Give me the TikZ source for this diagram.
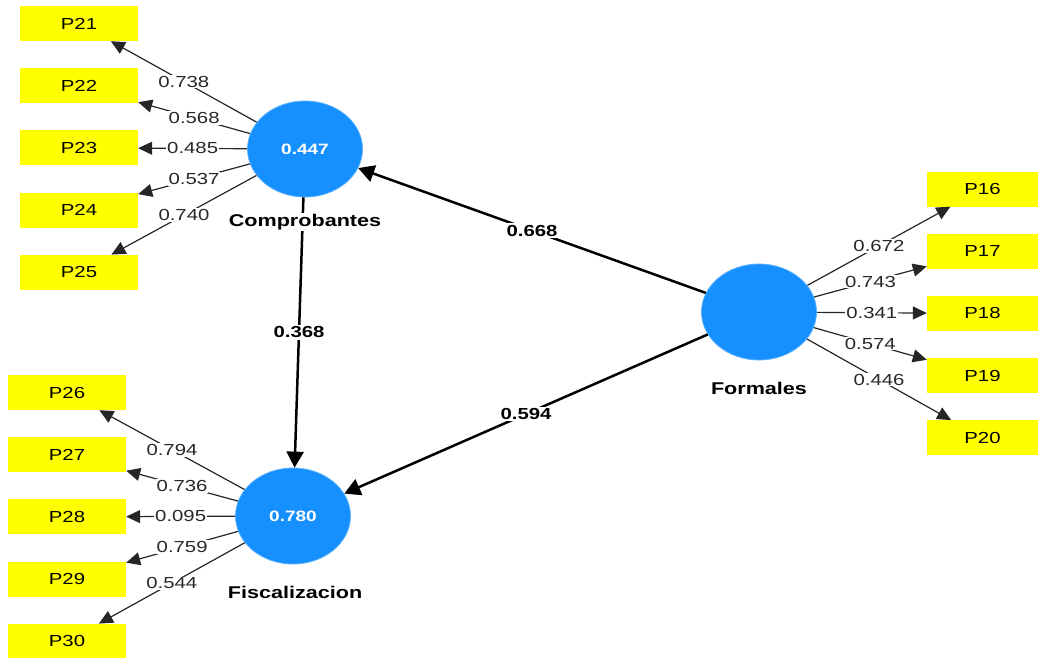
\documentclass[tikz,border=0pt]{standalone}
\usepackage{fontspec}
\setmainfont{Liberation Sans}
\newfontfamily\plsfont[FakeStretch=1.27]{Liberation Sans}
\usetikzlibrary{
    arrows.meta,
    shapes.geometric
}
\definecolor{lv blue}{RGB}{22,144,255}
\definecolor{item yellow}{RGB}{255,255,0}
\definecolor{weight gray}{RGB}{40,40,40}
\tikzset{
    % Fonts
    item font/.style={font=\plsfont\fontsize{16pt}{18pt}\selectfont},
    bold font/.style={font=\plsfont\fontsize{#1}{#1}\selectfont\bfseries},
    %
    % Nodes
    latent/.style={ellipse, fill=lv blue, draw=lv blue!70!white, line width=.8pt,
        minimum width=115pt, minimum height=96pt, inner sep=0pt, text=white, bold font=15pt},
    indicator/.style={rectangle, fill=item yellow, minimum width=118pt, minimum height=35pt,
        inner sep=0pt, item font},
    latent name/.style={fill=white, inner sep=1.5pt, bold font=17pt},
    weight/.style={fill=white, inner sep=1pt, text=weight gray, item font},
    coef/.style={fill=white, inner sep=1.5pt, bold font=16pt},
    %
    % Arrows
    loading tip/.tip={Triangle[length=14pt,width=13pt]},
    path tip/.tip={Triangle[length=16pt,width=17pt]},
    loading/.style={-{loading tip}, line width=1.2pt, draw=black!85},
    structural/.style={-{path tip}, line width=2.5pt}
}

\begin{document}
\begin{tikzpicture}[x=1pt, y=-1pt]
    \useasboundingbox (0,0) rectangle (1038,658);

    % latent variables
    \node[latent] (comp) at (305,149) {0.447};
    \node[latent] (form) at (759,312) {};
    \node[latent] (fisc) at (293,516) {0.780};

    % indicators
    \foreach \p [count=\i from 0] in {21,...,25}
        \node[indicator] (p\p) at (79,23.5+62.2*\i) {P\p};
    \foreach \p [count=\i from 0] in {16,...,20}
        \node[indicator, minimum width=111pt] (p\p) at (982.5,189+62.2*\i) {P\p};
    \foreach \p [count=\i from 0] in {26,...,30}
        \node[indicator] (p\p) at (67,392.5+62.2*\i) {P\p};

    % inner model
    \draw[structural] (form) -- node[coef] {0.668} (comp);
    \draw[structural] (form) -- node[coef] {0.594} (fisc);
    \draw[structural] (comp) -- node[coef] {0.368} (fisc);

    % outer loadings
    \foreach \p/\w in {21/0.738, 22/0.568, 23/0.485, 24/0.537, 25/0.740}
        \draw[loading] (comp) -- node[weight] {\w} (p\p);
    \foreach \p/\w in {16/0.672, 17/0.743, 18/0.341, 19/0.574, 20/0.446}
        \draw[loading] (form) -- node[weight] {\w} (p\p);
    \foreach \p/\w in {26/0.794, 27/0.736, 28/0.095, 29/0.759, 30/0.544}
        \draw[loading] (fisc) -- node[weight] {\w} (p\p);

    % names of the constructs
    \node[latent name] (comp name) at (305,222) {Comprobantes};
    \node[latent name] (form name) at (759,388) {Formales};
    \node[latent name] (fisc name) at (295,592) {Fiscalizacion};
\end{tikzpicture}
\end{document}
